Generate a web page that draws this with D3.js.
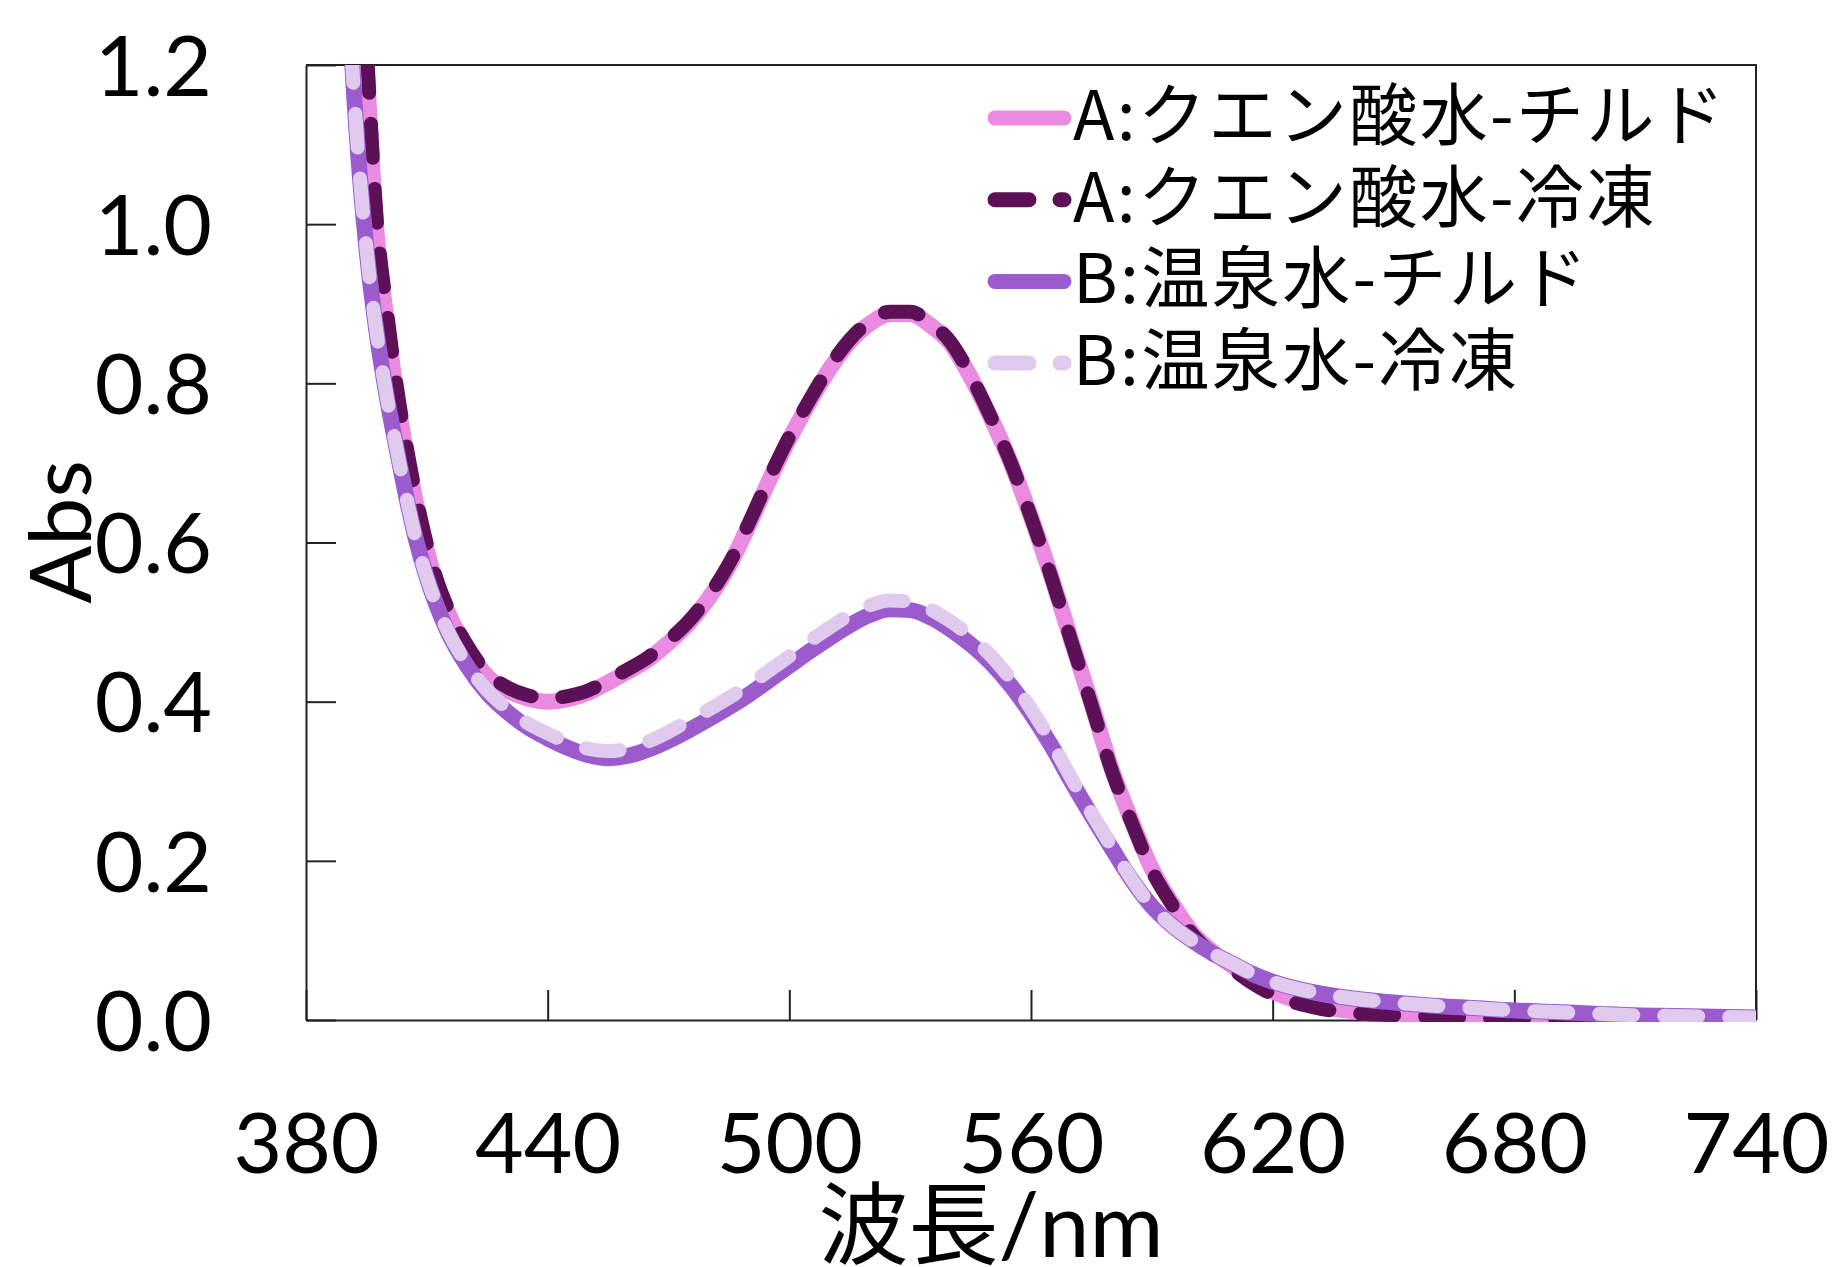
<!DOCTYPE html>
<html>
<head>
<meta charset="utf-8">
<script src="https://cdn.jsdelivr.net/npm/d3@7"></script>
<style>
  body { margin: 0; background: #fff; }
</style>
</head>
<body>
<div id="chart"></div>
<script>
// Data
const wavelengths = [
  385, 387.5, 390, 392.5, 395, 397.5, 400, 402.5, 405, 407.5, 410, 412.5, 415,
  420, 425, 430, 435, 440, 445, 450, 455, 460, 465, 470, 475, 480, 485, 490, 495,
  500, 505, 510, 515, 520, 525, 530, 535, 540, 545, 550, 555, 560, 565, 570, 575,
  580, 585, 590, 595, 600, 605, 610, 615, 620,
  630, 640, 650, 660, 670, 680, 690, 700, 710, 720, 730, 740
];

const aChilled = [
  2.30, 1.95, 1.66, 1.42, 1.20, 0.990, 0.880, 0.785, 0.710, 0.645, 0.590, 0.547, 0.515,
  0.467, 0.432, 0.414, 0.404, 0.400, 0.403, 0.411, 0.424, 0.438, 0.453, 0.474, 0.498, 0.530, 0.570, 0.622, 0.678,
  0.730, 0.776, 0.818, 0.852, 0.875, 0.887, 0.887, 0.873, 0.850, 0.808, 0.757, 0.700, 0.632, 0.558, 0.477, 0.398,
  0.316, 0.250, 0.190, 0.147, 0.110, 0.086, 0.068, 0.050, 0.036,
  0.019, 0.011, 0.007, 0.005, 0.004, 0.003, 0.003, 0.002, 0.002, 0.001, 0.001, 0.001
];

const aFrozen = [
  2.35, 2.00, 1.70, 1.45, 1.23, 1.01, 0.895, 0.798, 0.720, 0.654, 0.598, 0.553, 0.520,
  0.471, 0.436, 0.418, 0.408, 0.404, 0.407, 0.414, 0.427, 0.441, 0.456, 0.477, 0.501, 0.533, 0.573, 0.625, 0.681,
  0.733, 0.779, 0.821, 0.855, 0.878, 0.890, 0.890, 0.876, 0.852, 0.810, 0.758, 0.700, 0.632, 0.557, 0.476, 0.396,
  0.314, 0.248, 0.188, 0.145, 0.108, 0.083, 0.064, 0.046, 0.032,
  0.016, 0.009, 0.006, 0.004, 0.003, 0.002, 0.002, 0.002, 0.001, 0.001, 0.001, 0.001
];

const bChilled = [
  2.20, 1.75, 1.35, 1.12, 0.970, 0.865, 0.785, 0.718, 0.655, 0.600, 0.556, 0.520, 0.490,
  0.445, 0.411, 0.387, 0.368, 0.354, 0.342, 0.333, 0.329, 0.332, 0.340, 0.351, 0.364, 0.378, 0.393, 0.409, 0.427,
  0.445, 0.463, 0.480, 0.496, 0.509, 0.516, 0.515, 0.506, 0.491, 0.472, 0.449, 0.420, 0.385, 0.345, 0.300, 0.257,
  0.216, 0.176, 0.143, 0.119, 0.100, 0.084, 0.071, 0.058, 0.048,
  0.035, 0.027, 0.022, 0.018, 0.015, 0.012, 0.010, 0.008, 0.006, 0.005, 0.004, 0.003
];

const bFrozen = [
  2.20, 1.75, 1.35, 1.12, 0.970, 0.865, 0.785, 0.718, 0.655, 0.600, 0.556, 0.521, 0.491,
  0.447, 0.414, 0.391, 0.373, 0.360, 0.349, 0.341, 0.338, 0.341, 0.350, 0.362, 0.376, 0.390, 0.405, 0.421, 0.439,
  0.457, 0.476, 0.493, 0.509, 0.521, 0.527, 0.526, 0.516, 0.501, 0.482, 0.458, 0.428, 0.391, 0.350, 0.304, 0.260,
  0.218, 0.177, 0.143, 0.119, 0.100, 0.084, 0.071, 0.058, 0.048,
  0.035, 0.027, 0.022, 0.018, 0.015, 0.012, 0.010, 0.008, 0.006, 0.005, 0.004, 0.003
];

const seriesNames = ['A:クエン酸水-チルド', 'A:クエン酸水-冷凍', 'B:温泉水-チルド', 'B:温泉水-冷凍'];
const xTicks = [380, 440, 500, 560, 620, 680, 740];
const yTicks = [0, 0.2, 0.4, 0.6, 0.8, 1.0, 1.2];

// Line styles
const series = [
  { name: seriesNames[0], values: aChilled, color: '#EB8AE1', width: 16, dash: null },
  { name: seriesNames[1], values: aFrozen, color: '#5C1055', width: 14, dash: '34,31' },
  { name: seriesNames[2], values: bChilled, color: '#9B5BCD', width: 16, dash: null },
  { name: seriesNames[3], values: bFrozen, color: '#E0CBEF', width: 14, dash: '34,31' }
];

// Size
const width = 1834;
const height = 1267;
const plotLeft = 306, plotRight = 1756, plotTop = 65, plotBottom = 1020;
const latin = 'Lato, "Noto Sans CJK JP", sans-serif';
const cjk = '"Noto Sans CJK JP", sans-serif';

const xScale = d3.scaleLinear().domain([380, 740]).range([plotLeft, plotRight]);
const yScale = d3.scaleLinear().domain([0, 1.2]).range([plotBottom, plotTop]);

const svg = d3.select('#chart')
  .append('svg')
  .attr('width', width)
  .attr('height', height)
  .style('background', '#fff');

svg.append('clipPath')
  .attr('id', 'plot-clip')
  .append('rect')
  .attr('x', plotLeft)
  .attr('y', plotTop)
  .attr('width', plotRight - plotLeft)
  .attr('height', plotBottom - plotTop + 2);

// Frame top and right
svg.append('path')
  .attr('d', `M${plotLeft},${plotTop}H${plotRight}V${plotBottom}`)
  .attr('fill', 'none')
  .attr('stroke', '#222')
  .attr('stroke-width', 2);

// x axis
svg.append('g')
  .attr('transform', `translate(0,${plotBottom})`)
  .call(d3.axisBottom(xScale).tickValues(xTicks).tickSizeInner(-30).tickSizeOuter(0).tickFormat(d3.format('d')))
  .call(g => g.select('.domain').attr('stroke', '#222').attr('stroke-width', 2))
  .call(g => g.selectAll('.tick line').attr('stroke', '#222').attr('stroke-width', 2))
  .call(g => g.selectAll('.tick text')
    .attr('y', 153).attr('dy', null)
    .attr('fill', '#000')
    .attr('font-size', 84)
    .attr('font-family', latin));

// y axis
svg.append('g')
  .attr('transform', `translate(${plotLeft},0)`)
  .call(d3.axisLeft(yScale).tickValues(yTicks).tickSizeInner(-30).tickSizeOuter(0).tickPadding(94).tickFormat(d3.format('.1f')))
  .call(g => g.select('.domain').attr('stroke', '#222').attr('stroke-width', 2))
  .call(g => g.selectAll('.tick line').attr('stroke', '#222').attr('stroke-width', 2))
  .call(g => g.selectAll('.tick text')
    .attr('dy', '0.36em')
    .attr('fill', '#000')
    .attr('font-size', 84)
    .attr('font-family', latin));

// Curves
const line = d3.line()
  .x(d => xScale(d[0]))
  .y(d => yScale(d[1]))
  .curve(d3.curveMonotoneX);

svg.append('g')
  .attr('clip-path', 'url(#plot-clip)')
  .selectAll('path')
  .data(series)
  .enter()
  .append('path')
  .attr('d', s => line(wavelengths.map((w, i) => [w, s.values[i]])))
  .attr('fill', 'none')
  .attr('stroke', s => s.color)
  .attr('stroke-width', s => s.width)
  .attr('stroke-linecap', 'round')
  .attr('stroke-linejoin', 'round')
  .attr('stroke-dasharray', s => s.dash);

// Legend
const legend = svg.append('g')
  .selectAll('g')
  .data(series)
  .enter()
  .append('g')
  .attr('transform', (s, i) => `translate(0,${118 + i * 81.7})`);

legend.append('path')
  .attr('d', 'M995,0H1064')
  .attr('stroke', s => s.color)
  .attr('stroke-width', 15)
  .attr('stroke-linecap', 'round')
  .attr('stroke-dasharray', s => s.dash);

legend.append('text')
  .attr('x', 1073)
  .attr('y', 22)
  .attr('font-size', 68)
  .attr('letter-spacing', 2.4)
  .attr('font-family', cjk)
  .attr('fill', '#000')
  .text(s => s.name);

// Axis titles
svg.append('text')
  .attr('x', 991)
  .attr('y', 1257)
  .attr('text-anchor', 'middle')
  .attr('font-size', 90)
  .attr('font-family', latin)
  .attr('fill', '#000')
  .text('波長/nm');

svg.append('text')
  .attr('transform', 'translate(91,532) rotate(-90)')
  .attr('text-anchor', 'middle')
  .attr('font-size', 86)
  .attr('font-family', latin)
  .attr('fill', '#000')
  .text('Abs');
</script>
</body>
</html>
